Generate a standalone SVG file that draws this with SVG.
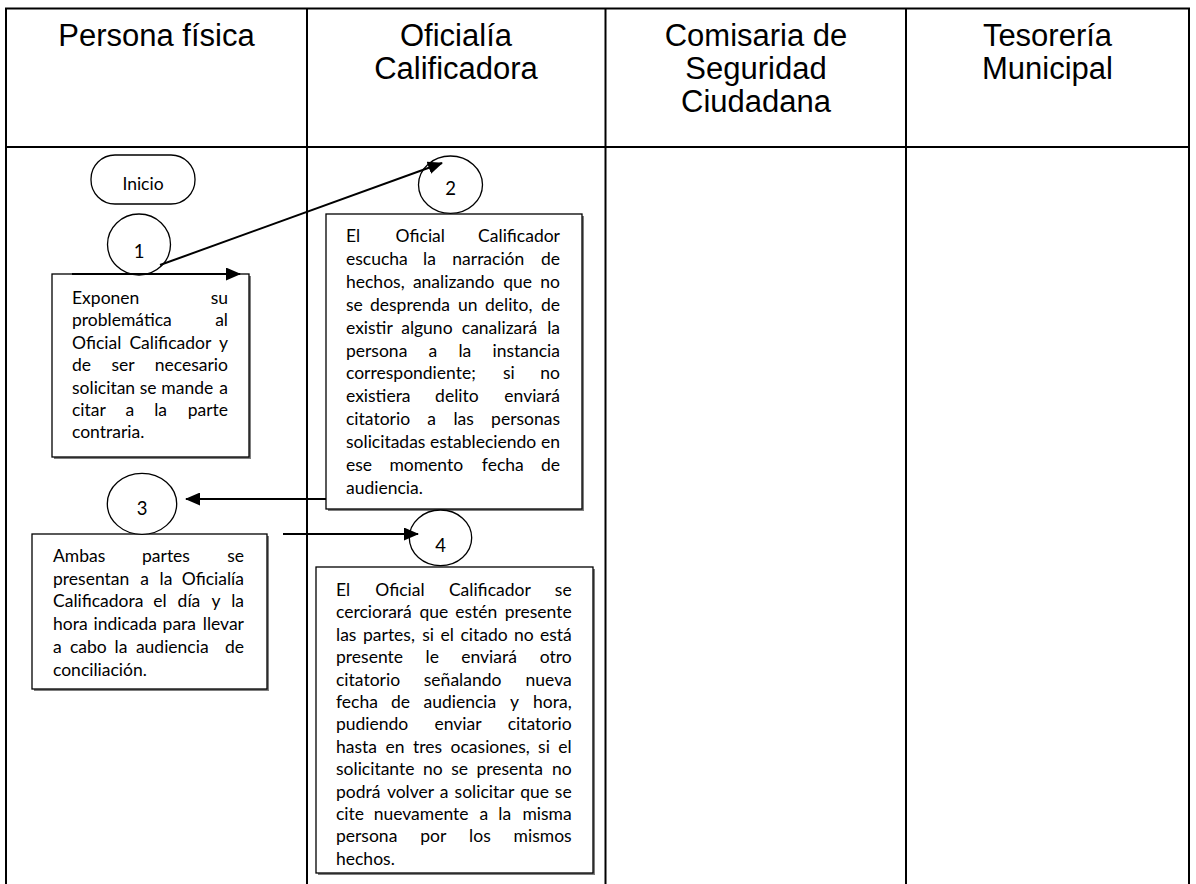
<svg xmlns="http://www.w3.org/2000/svg" width="1196" height="884" viewBox="0 0 1196 884">
<style>
.grid{stroke:#000;stroke-width:2;fill:none}
.hdr{font-family:"Liberation Sans",Arial,sans-serif;font-size:31px;fill:#000;text-anchor:middle}
.box{fill:#fff;stroke:#000;stroke-width:1.3}
.shadow{fill:#7f7f7f}
.t{font-family:Lato,"Open Sans",sans-serif;font-size:17.5px;fill:#000}
.e{text-anchor:end}
.circ{fill:#fff;stroke:#000;stroke-width:1.3}
.num{font-family:Lato,"Open Sans",sans-serif;font-size:18.5px;fill:#000;text-anchor:middle}
.conn{stroke:#000;stroke-width:2;fill:none;marker-end:url(#arr)}
</style>
<defs>
<marker id="arr" viewBox="0 0 15 13" refX="14" refY="6.5" markerWidth="15" markerHeight="13" markerUnits="userSpaceOnUse" orient="auto">
<path d="M0,0 L15,6.5 L0,13 z" fill="#000"/>
</marker>
</defs>
<rect x="0" y="0" width="1196" height="884" fill="#fff"/>
<g id="lanes">
<line class="grid" x1="5" y1="8.5" x2="1190" y2="8.5"/>
<line class="grid" x1="5" y1="147" x2="1190" y2="147"/>
<line class="grid" x1="6" y1="8.5" x2="6" y2="884"/>
<line class="grid" x1="307" y1="8.5" x2="307" y2="884"/>
<line class="grid" x1="605.5" y1="8.5" x2="605.5" y2="884"/>
<line class="grid" x1="906" y1="8.5" x2="906" y2="884"/>
<line class="grid" x1="1189" y1="8.5" x2="1189" y2="884"/>
<text class="hdr" x="156.5" y="45.5">Persona física</text>
<text class="hdr" x="456" y="45.5">Oficialía</text>
<text class="hdr" x="456" y="78.5">Calificadora</text>
<text class="hdr" x="756" y="45.5">Comisaria de</text>
<text class="hdr" x="756" y="78.5">Seguridad</text>
<text class="hdr" x="756" y="111.5">Ciudadana</text>
<text class="hdr" x="1047.5" y="45.5">Tesorería</text>
<text class="hdr" x="1047.5" y="78.5">Municipal</text>
</g>
<g id="node-inicio">
<rect class="box" x="91" y="155" width="104" height="49" rx="24" ry="24"/>
<text class="t" x="143" y="190" text-anchor="middle">Inicio</text>
</g>
<g id="node-box1">
<rect class="shadow" x="54" y="276" width="197" height="183"/>
<rect class="box" x="52" y="274" width="197" height="183"/>
<text class="t" y="304"><tspan x="72">Exponen </tspan><tspan x="228" class="e">su</tspan></text>
<text class="t" y="326.4"><tspan x="72">problemática </tspan><tspan x="228" class="e">al</tspan></text>
<text class="t" y="348.8"><tspan x="72">Oficial </tspan><tspan x="129.4">Calificador </tspan><tspan x="228" class="e">y</tspan></text>
<text class="t" y="371.2"><tspan x="72">de </tspan><tspan x="111.4">ser </tspan><tspan x="228" class="e">necesario</tspan></text>
<text class="t" y="393.6"><tspan x="72">solicitan </tspan><tspan x="139.8">se </tspan><tspan x="161.3">mande </tspan><tspan x="228" class="e">a</tspan></text>
<text class="t" y="416"><tspan x="72">citar </tspan><tspan x="125.6">a </tspan><tspan x="154.2">la </tspan><tspan x="228" class="e">parte</tspan></text>
<text class="t" x="72" y="438.4">contraria.</text>
</g>
<g id="node-c1">
<ellipse class="circ" cx="139" cy="244.5" rx="31.5" ry="30.5"/>
<text class="num" x="139" y="258">1</text>
</g>
<g id="node-box2">
<rect class="shadow" x="328" y="216" width="256" height="295"/>
<rect class="box" x="326" y="214" width="256" height="295"/>
<text class="t" y="242"><tspan x="346">El </tspan><tspan x="395.6">Oficial </tspan><tspan x="560" class="e">Calificador</tspan></text>
<text class="t" y="264.9"><tspan x="346">escucha </tspan><tspan x="423">la </tspan><tspan x="452.3">narración </tspan><tspan x="560" class="e">de</tspan></text>
<text class="t" y="287.8"><tspan x="346">hechos, </tspan><tspan x="412.9">analizando </tspan><tspan x="503.2">que </tspan><tspan x="560" class="e">no</tspan></text>
<text class="t" y="310.7"><tspan x="346">se </tspan><tspan x="370">desprenda </tspan><tspan x="458">un </tspan><tspan x="485">delito, </tspan><tspan x="560" class="e">de</tspan></text>
<text class="t" y="333.6"><tspan x="346">existir </tspan><tspan x="401.2">alguno </tspan><tspan x="461.8">canalizará </tspan><tspan x="560" class="e">la</tspan></text>
<text class="t" y="356.5"><tspan x="346">persona </tspan><tspan x="428.5">a </tspan><tspan x="458.4">la </tspan><tspan x="560" class="e">instancia</tspan></text>
<text class="t" y="379.4"><tspan x="346">correspondiente; </tspan><tspan x="502.9">si </tspan><tspan x="560" class="e">no</tspan></text>
<text class="t" y="402.3"><tspan x="346">existiera </tspan><tspan x="435.1">delito </tspan><tspan x="560" class="e">enviará</tspan></text>
<text class="t" y="425.2"><tspan x="346">citatorio </tspan><tspan x="427.3">a </tspan><tspan x="453.4">las </tspan><tspan x="560" class="e">personas</tspan></text>
<text class="t" y="448.1"><tspan x="346">solicitadas </tspan><tspan x="430">estableciendo </tspan><tspan x="560" class="e">en</tspan></text>
<text class="t" y="471"><tspan x="346">ese </tspan><tspan x="389.4">momento </tspan><tspan x="481.8">fecha </tspan><tspan x="560" class="e">de</tspan></text>
<text class="t" x="346" y="493.9">audiencia.</text>
</g>
<g id="node-c2">
<ellipse class="circ" cx="450.5" cy="184.7" rx="32" ry="28.7"/>
<text class="num" x="450.5" y="195">2</text>
</g>
<g id="node-box3">
<rect class="shadow" x="34" y="536" width="235" height="155"/>
<rect class="box" x="32" y="534" width="235" height="155"/>
<text class="t" y="562"><tspan x="53">Ambas </tspan><tspan x="142">partes </tspan><tspan x="244" class="e">se</tspan></text>
<text class="t" y="584.7"><tspan x="53">presentan </tspan><tspan x="140.3">a </tspan><tspan x="159.5">la </tspan><tspan x="244" class="e">Oficialía</tspan></text>
<text class="t" y="607.4"><tspan x="53">Calificadora </tspan><tspan x="153.2">el </tspan><tspan x="177.6">día </tspan><tspan x="211.5">y </tspan><tspan x="244" class="e">la</tspan></text>
<text class="t" y="630.1"><tspan x="53">hora </tspan><tspan x="93.5">indicada </tspan><tspan x="162.6">para </tspan><tspan x="244" class="e">llevar</tspan></text>
<text class="t" y="652.8"><tspan x="53">a </tspan><tspan x="70">cabo </tspan><tspan x="114.6">la </tspan><tspan x="135.9">audiencia </tspan><tspan x="244" class="e">de</tspan></text>
<text class="t" x="53" y="675.5">conciliación.</text>
</g>
<g id="node-c3">
<ellipse class="circ" cx="142" cy="503.8" rx="34.7" ry="30.5"/>
<text class="num" x="142" y="515">3</text>
</g>
<g id="node-box4">
<rect class="shadow" x="318" y="569" width="277" height="306"/>
<rect class="box" x="316" y="567" width="277" height="306"/>
<text class="t" y="596"><tspan x="336">El </tspan><tspan x="375.3">Oficial </tspan><tspan x="448.9">Calificador </tspan><tspan x="571.7" class="e">se</tspan></text>
<text class="t" y="618.4"><tspan x="336">cerciorará </tspan><tspan x="419.5">que </tspan><tspan x="455.3">estén </tspan><tspan x="571.7" class="e">presente</tspan></text>
<text class="t" y="640.8"><tspan x="336">las </tspan><tspan x="363">partes, </tspan><tspan x="422.3">si </tspan><tspan x="440.4">el </tspan><tspan x="460.5">citado </tspan><tspan x="514">no </tspan><tspan x="571.7" class="e">está</tspan></text>
<text class="t" y="663.2"><tspan x="336">presente </tspan><tspan x="425.6">le </tspan><tspan x="461.2">enviará </tspan><tspan x="571.7" class="e">otro</tspan></text>
<text class="t" y="685.6"><tspan x="336">citatorio </tspan><tspan x="423.8">señalando </tspan><tspan x="571.7" class="e">nueva</tspan></text>
<text class="t" y="708"><tspan x="336">fecha </tspan><tspan x="391">de </tspan><tspan x="423.5">audiencia </tspan><tspan x="509.9">y </tspan><tspan x="571.7" class="e">hora,</tspan></text>
<text class="t" y="730.4"><tspan x="336">pudiendo </tspan><tspan x="434.4">enviar </tspan><tspan x="571.7" class="e">citatorio</tspan></text>
<text class="t" y="752.8"><tspan x="336">hasta </tspan><tspan x="385.5">en </tspan><tspan x="412.9">tres </tspan><tspan x="450.6">ocasiones, </tspan><tspan x="538.1">si </tspan><tspan x="571.7" class="e">el</tspan></text>
<text class="t" y="775.2"><tspan x="336">solicitante </tspan><tspan x="423">no </tspan><tspan x="451.2">se </tspan><tspan x="476.4">presenta </tspan><tspan x="571.7" class="e">no</tspan></text>
<text class="t" y="797.6"><tspan x="336">podrá </tspan><tspan x="386.9">volver </tspan><tspan x="439.7">a </tspan><tspan x="454.6">solicitar </tspan><tspan x="520.2">que </tspan><tspan x="571.7" class="e">se</tspan></text>
<text class="t" y="820"><tspan x="336">cite </tspan><tspan x="373.7">nuevamente </tspan><tspan x="479.4">a </tspan><tspan x="498.3">la </tspan><tspan x="571.7" class="e">misma</tspan></text>
<text class="t" y="842.4"><tspan x="336">persona </tspan><tspan x="420.2">por </tspan><tspan x="469.1">los </tspan><tspan x="571.7" class="e">mismos</tspan></text>
<text class="t" x="336" y="864.8">hechos.</text>
</g>
<g id="node-c4">
<ellipse class="circ" cx="440.5" cy="537.8" rx="31.2" ry="27.8"/>
<text class="num" x="440.5" y="551.5">4</text>
</g>
<g id="connectors">
<path class="conn" d="M72,274 H240"/>
<path class="conn" d="M160,265 L442,163"/>
<path class="conn" d="M326,499 H186"/>
<path class="conn" d="M283,534 H418"/>
</g>
</svg>
